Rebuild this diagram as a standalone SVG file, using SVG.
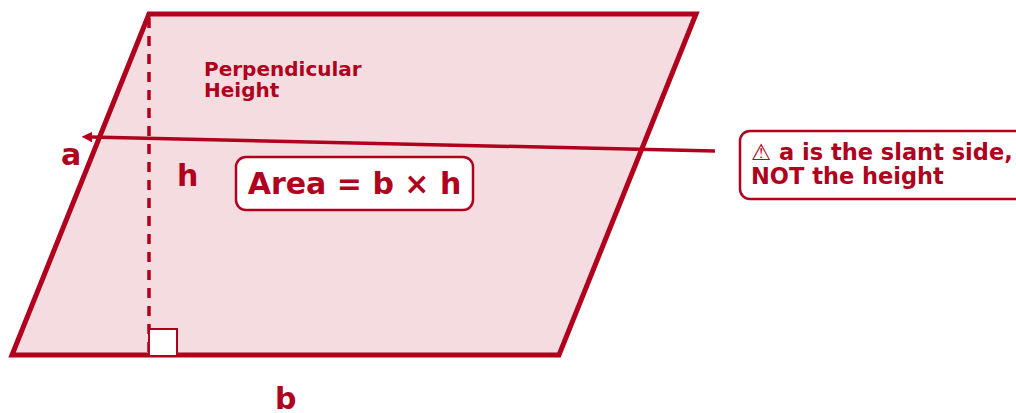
<svg xmlns="http://www.w3.org/2000/svg" width="1016" height="413" viewBox="0 0 1016 413">
<style>
text{font-family:"DejaVu Sans",sans-serif;font-weight:bold;fill:#b0001e}
.box{fill:#fff;stroke:#b0001e;stroke-width:2.5}
</style>
<defs>
<marker id="ah" viewBox="0 0 10 10" refX="2" refY="5" markerWidth="3" markerHeight="3" orient="auto-start-reverse">
<path d="M0,0 L10,5 L0,10 z" fill="#b0001e"/>
</marker>
</defs>
<g id="parallelogram">
<polygon points="12,355 149,14 696,14 559,355" fill="#f5dce0" stroke="#b0001e" stroke-width="5" stroke-linejoin="miter"/>
</g>
<g id="height">
<line x1="149" y1="18" x2="149" y2="352" stroke="#b0001e" stroke-width="3.5" stroke-dasharray="10,8"/>
<rect x="149" y="329" width="28" height="27" fill="#fff" stroke="#b0001e" stroke-width="2"/>
</g>
<g id="connectors">
<line x1="715" y1="151" x2="90" y2="137" stroke="#b0001e" stroke-width="3.5" marker-end="url(#ah)"/>
</g>
<g id="labels">
<text x="204" y="76" font-size="20">Perpendicular</text>
<text x="204" y="97" font-size="20">Height</text>
<text x="61" y="165" font-size="30">a</text>
<text x="177" y="186" font-size="30">h</text>
<text x="275" y="409" font-size="30">b</text>
</g>
<g id="area">
<rect class="box" x="236" y="157" width="237" height="53" rx="10"/>
<text x="354.5" y="194" font-size="30" text-anchor="middle">Area = b × h</text>
</g>
<g id="warning">
<rect class="box" x="740" y="131" width="300" height="68" rx="10"/>
<text x="751" y="160" font-size="22.5">⚠ a is the slant side,</text>
<text x="751" y="184" font-size="22.5">NOT the height</text>
</g>
</svg>
